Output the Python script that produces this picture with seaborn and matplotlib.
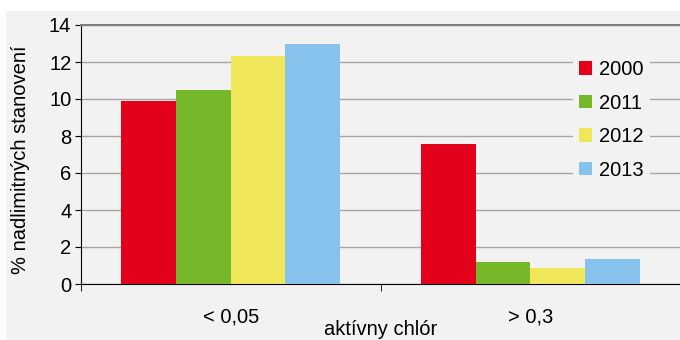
import seaborn as sns
import matplotlib.pyplot as plt
import pandas as pd
from matplotlib.patches import Rectangle

categories = ["< 0,05", "> 0,3"]
years = ["2000", "2011", "2012", "2013"]
values_2000 = [9.9, 7.55]
values_2011 = [10.5, 1.2]
values_2012 = [12.35, 0.88]
values_2013 = [12.95, 1.35]
colors = ["#e3001b", "#77b82a", "#f0e65a", "#86c2ec"]

rows = []
for year, vals in zip(years, [values_2000, values_2011, values_2012, values_2013]):
    for cat, v in zip(categories, vals):
        rows.append({"kategoria": cat, "rok": year, "hodnota": v})
df = pd.DataFrame(rows)

plt.rcParams["font.family"] = ["Liberation Sans", "DejaVu Sans"]
bg = "#f2f2f2"
fs = 14.5

fig = plt.figure(figsize=(6.8, 3.4), dpi=100, facecolor="white")
fig.patches.append(Rectangle((6 / 680, 0), 1, 1 - 11 / 340, transform=fig.transFigure,
                             facecolor=bg, edgecolor="none", zorder=-10))
ax = fig.add_axes([81 / 680, 1 - 284 / 340, 1 - 81 / 680, (284 - 25) / 340])
ax.set_facecolor(bg)
ax.set_zorder(1)

sns.barplot(data=df, x="kategoria", y="hodnota", hue="rok", palette=colors,
            width=0.73, saturation=1, ax=ax, zorder=3)

ax.set_ylim(0, 14)
ax.set_xlim(-0.5, 1.5)
ax.set_yticks(range(0, 15, 2))
ax.yaxis.grid(True, color="#a6a6a6", linewidth=1, zorder=0)
ax.set_axisbelow(True)

ax.spines["right"].set_visible(False)
ax.spines["top"].set_color("#7f7f7f")
ax.spines["top"].set_linewidth(1.5)
ax.spines["left"].set_color("black")
ax.spines["bottom"].set_color("black")

ax.tick_params(axis="y", length=4, labelsize=fs, pad=3)
ax.set_xticks([0, 1])
ax.set_xticklabels(categories)
ax.tick_params(axis="x", length=0, labelsize=fs, pad=17)
ax.set_xticks([-0.5, 0.5, 1.5], minor=True)
ax.tick_params(axis="x", which="minor", length=5)

ax.set_xlabel("aktívny chlór", fontsize=fs)
ax.xaxis.set_label_coords(0.5, (284 - 339) / 259)
ax.xaxis.label.set_va("bottom")
ax.set_ylabel("% nadlimitných stanovení", fontsize=fs)
ax.yaxis.set_label_coords((30 - 81) / 599, (284 - 160) / 259)

leg = ax.legend(loc="upper left", bbox_to_anchor=((563 - 81) / 599, (284 - 44) / 259),
                title=None, fontsize=fs, frameon=True, facecolor=bg, edgecolor="none",
                framealpha=1, handlelength=0.65, handleheight=0.65,
                handletextpad=0.35, labelspacing=0.72, borderpad=0.3)
leg.set_zorder(5)

fig.savefig("out.png", dpi=100, facecolor=fig.get_facecolor())
